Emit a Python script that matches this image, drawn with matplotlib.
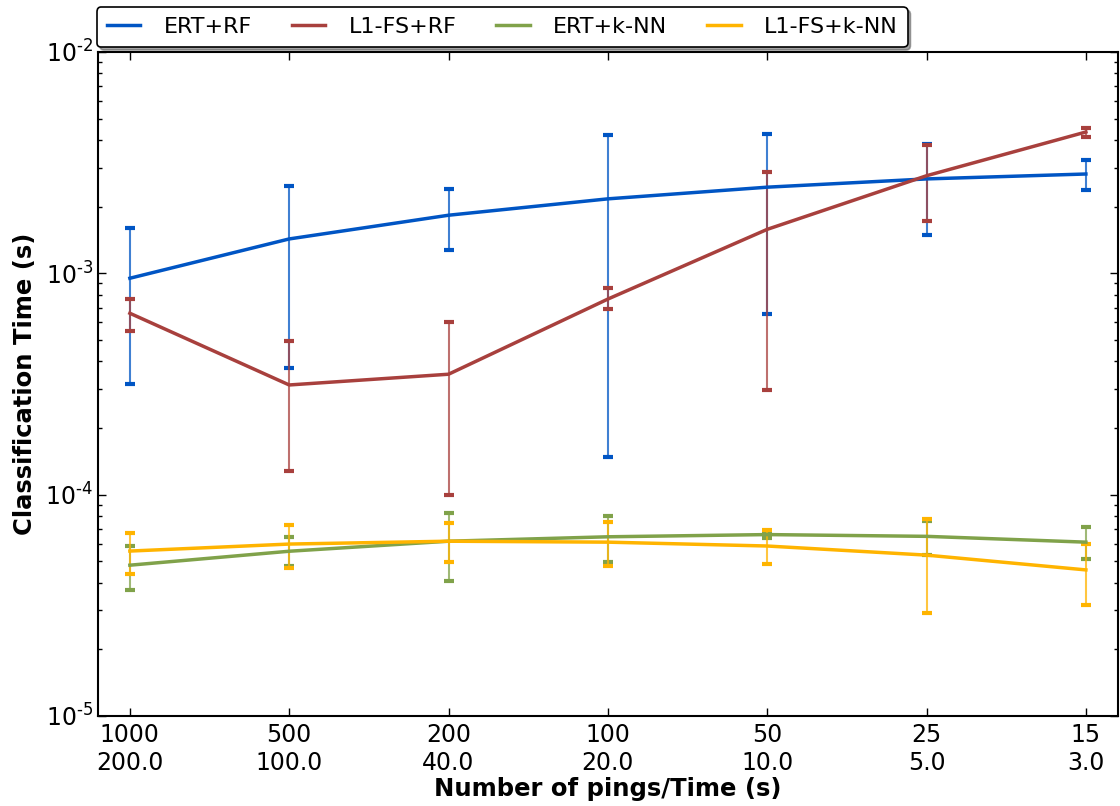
import numpy as np
import matplotlib
matplotlib.use("Agg")
import matplotlib.pyplot as plt
from matplotlib.ticker import LogLocator, FuncFormatter, NullFormatter

plt.rcParams["font.family"] = "DejaVu Sans"
plt.rcParams["mathtext.default"] = "regular"

pings = ["1000", "500", "200", "100", "50", "25", "15"]
times = ["200.0", "100.0", "40.0", "20.0", "10.0", "5.0", "3.0"]
tick_labels = ["{}\n{}".format(p, t) for p, t in zip(pings, times)]

# mean, lower and upper ends of the error bars
ert_rf = [9.5e-4, 1.43e-3, 1.83e-3, 2.17e-3, 2.45e-3, 2.67e-3, 2.81e-3]
ert_rf_lo = [3.16e-4, 3.73e-4, 1.27e-3, 1.48e-4, 6.55e-4, 1.49e-3, 2.38e-3]
ert_rf_hi = [1.6e-3, 2.48e-3, 2.4e-3, 4.2e-3, 4.26e-3, 3.84e-3, 3.25e-3]

l1_rf = [6.6e-4, 3.13e-4, 3.5e-4, 7.65e-4, 1.58e-3, 2.76e-3, 4.35e-3]
l1_rf_lo = [5.5e-4, 1.28e-4, 1.0e-4, 6.9e-4, 2.97e-4, 1.72e-3, 4.13e-3]
l1_rf_hi = [7.66e-4, 4.94e-4, 6.0e-4, 8.6e-4, 2.87e-3, 3.8e-3, 4.54e-3]

ert_knn = [4.8e-5, 5.55e-5, 6.16e-5, 6.45e-5, 6.6e-5, 6.48e-5, 6.1e-5]
ert_knn_lo = [3.7e-5, 4.78e-5, 4.07e-5, 4.96e-5, 6.38e-5, 5.35e-5, 5.13e-5]
ert_knn_hi = [5.86e-5, 6.45e-5, 8.26e-5, 8.0e-5, 6.84e-5, 7.6e-5, 7.15e-5]

l1_knn = [5.56e-5, 5.98e-5, 6.16e-5, 6.1e-5, 5.86e-5, 5.33e-5, 4.57e-5]
l1_knn_lo = [4.38e-5, 4.68e-5, 4.96e-5, 4.78e-5, 4.86e-5, 2.92e-5, 3.16e-5]
l1_knn_hi = [6.7e-5, 7.3e-5, 7.44e-5, 7.5e-5, 6.92e-5, 7.76e-5, 5.98e-5]

series = [
    ("ERT+RF", ert_rf, ert_rf_lo, ert_rf_hi, "#0055c4"),
    ("L1-FS+RF", l1_rf, l1_rf_lo, l1_rf_hi, "#a8403d"),
    ("ERT+k-NN", ert_knn, ert_knn_lo, ert_knn_hi, "#80a24a"),
    ("L1-FS+k-NN", l1_knn, l1_knn_lo, l1_knn_hi, "#ffb400"),
]


def log_label(val, pos):
    # hyphen-style exponent, as in the original
    exp = int(round(np.log10(val)))
    sign = "\u2010" if exp < 0 else ""
    return r"$10^{%s%d}$" % (sign, abs(exp))


fig = plt.figure(figsize=(11.2, 8.06), dpi=100)
ax = fig.add_axes([0.0875, 0.1117, 0.9105, 0.8238])

x = np.arange(len(pings))
handles = []
for label, y, lo, hi, color in series:
    y = np.array(y)
    yerr = [y - np.array(lo), np.array(hi) - y]
    cont = ax.errorbar(x, y, yerr=yerr, color=color, linewidth=2.5,
                       elinewidth=1.5, capsize=3.5, capthick=3, label=label)
    for bl in cont[2]:
        bl.set_alpha(0.75)
    handles.append(cont[0])

ax.set_yscale("log")
ax.set_ylim(1e-5, 1e-2)
ax.set_xlim(-0.2, 6.2)
ax.yaxis.set_major_locator(LogLocator(base=10))
ax.yaxis.set_minor_locator(LogLocator(base=10, subs=np.arange(2, 10)))
ax.yaxis.set_major_formatter(FuncFormatter(log_label))
ax.yaxis.set_minor_formatter(NullFormatter())
ax.set_xticks(x)
ax.set_xticklabels(tick_labels)

ax.tick_params(which="both", direction="in", top=True, right=True,
               labelsize=17)
ax.tick_params(which="major", length=6, width=1)
ax.tick_params(which="minor", length=3, width=1)
ax.tick_params(axis="x", pad=5)
for sp in ax.spines.values():
    sp.set_linewidth(1.5)

ax.set_xlabel("Number of pings/Time (s)", fontsize=17.5, fontweight="bold",
              labelpad=2)
ax.set_ylabel("Classification Time (s)", fontsize=17.5, fontweight="bold",
              labelpad=6)

leg = fig.legend(handles=handles, labels=[s[0] for s in series],
                 loc="upper left", bbox_to_anchor=(0.0866, 0.991),
                 ncol=4, fontsize=16, shadow=True, fancybox=True,
                 handlelength=1.5, handletextpad=1.05, columnspacing=1.8,
                 borderpad=0.45, framealpha=1, borderaxespad=0)
leg.get_frame().set_edgecolor("black")
leg.get_frame().set_linewidth(1.2)

fig.savefig("out.png", dpi=100)
